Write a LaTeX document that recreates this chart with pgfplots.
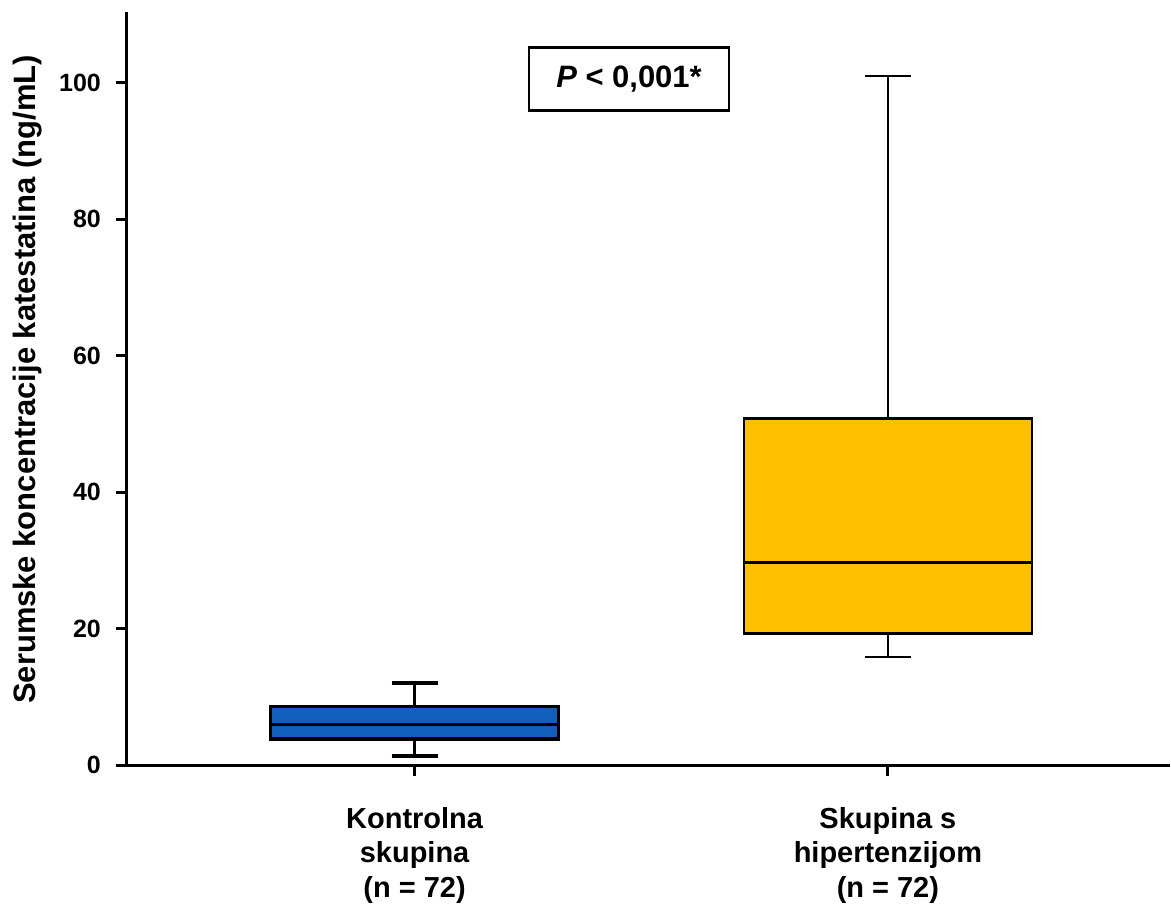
\documentclass[border=0pt]{standalone}
\usepackage{fontspec}
\setmainfont{Liberation Sans}
\usepackage{pgfplots}
\pgfplotsset{compat=1.18}
\usepgfplotslibrary{statistics}
\definecolor{boxblue}{RGB}{17,94,189}
\definecolor{boxgold}{RGB}{255,192,0}
\begin{document}
\begin{tikzpicture}
\begin{axis}[
  at={(0,0)}, anchor=south west,
  scale only axis, width=522pt, height=377pt,
  xmin=0.392, xmax=2.595, ymin=0, ymax=110.4,
  axis lines=left, axis line style={-, line width=1.5pt},
  xtick={1,2},
  xticklabels={{Kontrolna\\skupina\\(n = 72)},{Skupina s\\hipertenzijom\\(n = 72)}},
  ytick={0,20,40,60,80,100},
  tick style={black, line width=1.5pt},
  tick align=outside, major tick length=5.5pt,
  /pgf/number format/assume math mode=true,
  yticklabel style={font=\bfseries\fontsize{12.5}{15}\selectfont, xshift=-4pt},
  xticklabel style={align=center, yshift=-12pt, font=\bfseries\fontsize{14.5}{17.5}\selectfont},
  ylabel={Serumske koncentracije katestatina (ng/mL)},
  ylabel style={at={(axis description cs:-0.0955,0.512)}, anchor=center, font=\bfseries\fontsize{15.5}{18}\selectfont},
  clip=false,
  boxplot/draw direction=y,
]
\addplot[draw=black, line width=1.7pt, fill=boxblue,
  boxplot prepared={lower whisker=1.3, lower quartile=3.8, median=5.9,
    upper quartile=8.6, upper whisker=12.0, draw position=1,
    box extend=0.608, whisker extend=0.097}] coordinates {};
\addplot[draw=black, line width=1.2pt, fill=boxgold,
  boxplot prepared={lower whisker=15.8, lower quartile=19.3, median=29.7,
    upper quartile=50.8, upper whisker=101.0, draw position=2,
    box extend=0.608, whisker extend=0.097}] coordinates {};
\node[draw=black, line width=1.25pt, minimum width=100pt, minimum height=31.5pt, inner sep=0pt,
  font=\bfseries\fontsize{15.5}{18}\selectfont] at (axis cs:1.453,100.6) {\textit{P} < 0,001*};
\end{axis}
\path (-63.5pt,-73.5pt) rectangle (522pt,383pt);
\end{tikzpicture}
\end{document}
